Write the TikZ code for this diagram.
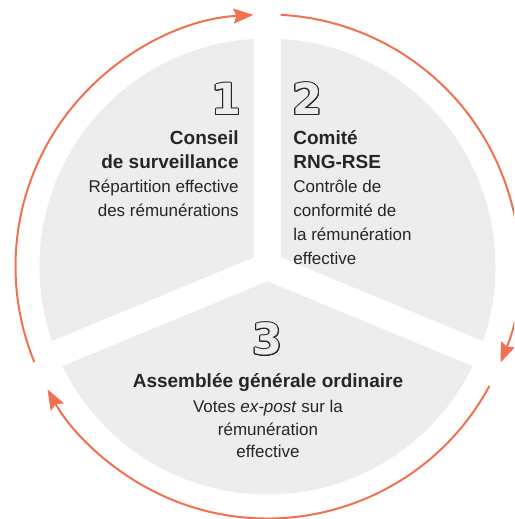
\documentclass[tikz,border=0pt]{standalone}
\usepackage{fontspec}
\setmainfont{Liberation Sans}
\newfontfamily\digitfont{DejaVu Sans}
\usepackage{xcolor}
\usepackage{contour}
\contourlength{0.5pt}
\usetikzlibrary{arrows.meta}

\definecolor{cycleorange}{RGB}{241,112,80}
\definecolor{sectorgrey}{RGB}{237,237,237}
\definecolor{textdark}{RGB}{38,38,38}
\newcommand{\digitoutline}[1]{\contour{textdark}{\textcolor{sectorgrey}{#1}}}
\newcommand{\ttl}[1]{{\fontsize{9.5}{12}\selectfont\bfseries #1}}

\begin{document}
\begin{tikzpicture}[
  x=0.5pt, y=0.5pt,
  arrow/.style={cycleorange, line width=1pt, -{Stealth[length=10pt, width=7.5pt, inset=1.5pt]}},
  gap/.style={white, line width=13.5pt},
  digit/.style={inner sep=0pt, font=\digitfont\bfseries\fontsize{21.5}{21.5}\selectfont},
  bloc/.style={inner sep=0pt, text=textdark, font=\fontsize{8.5}{12}\selectfont},
]
  \useasboundingbox (-267.5,-252.5) rectangle (246.5,266.5);
  \clip (-267.5,-252.5) rectangle (246.5,266.5);
  \coordinate (c) at (0,0);

  % disc cut in three sectors
  \fill[sectorgrey] (c) circle[radius=228];
  \foreach \a in {90,-22.5,202.5}
    \draw[gap] (c) -- (\a:240);

  % cycle arrows
  \coordinate (s1) at (202.3:252);
  \coordinate (s2) at (87:252);
  \coordinate (s3) at (-28.3:252);
  \draw[arrow] (s1) arc[start angle=202.3, end angle=93.2, radius=252];
  \draw[arrow] (s2) arc[start angle=87, end angle=-22.4, radius=252];
  \draw[arrow] (s3) arc[start angle=-28.3, end angle=-150.8, radius=252];

  % Conseil de surveillance (base = last line)
  \node[digit, anchor=base east] (n1) at (-25.5,151.5) {\digitoutline{1}};
  \node[bloc, align=right, anchor=base east] (t1) at (-28.5,49.5)
    {\ttl{Conseil}\\\ttl{de surveillance}\\Répartition effective\\des rémunérations};

  % Comite RNG-RSE
  \node[digit, anchor=base west] (n2) at (24.5,151.5) {\digitoutline{2}};
  \node[bloc, align=left, anchor=base west] (t2) at (25.5,1.5)
    {\ttl{Comité}\\\ttl{RNG-RSE}\\Contrôle de\\conformité de\\la rémunération\\effective};

  % Assemblee generale
  \node[digit, anchor=base] (n3) at (0,-88.5) {\digitoutline{3}};
  \node[bloc, align=center, anchor=base, font=\fontsize{8.5}{11}\selectfont] (t3) at (0.5,-190.5)
    {\ttl{Assemblée générale ordinaire}\\[2pt]Votes \textit{ex-post} sur la\\rémunération\\effective};
\end{tikzpicture}
\end{document}
